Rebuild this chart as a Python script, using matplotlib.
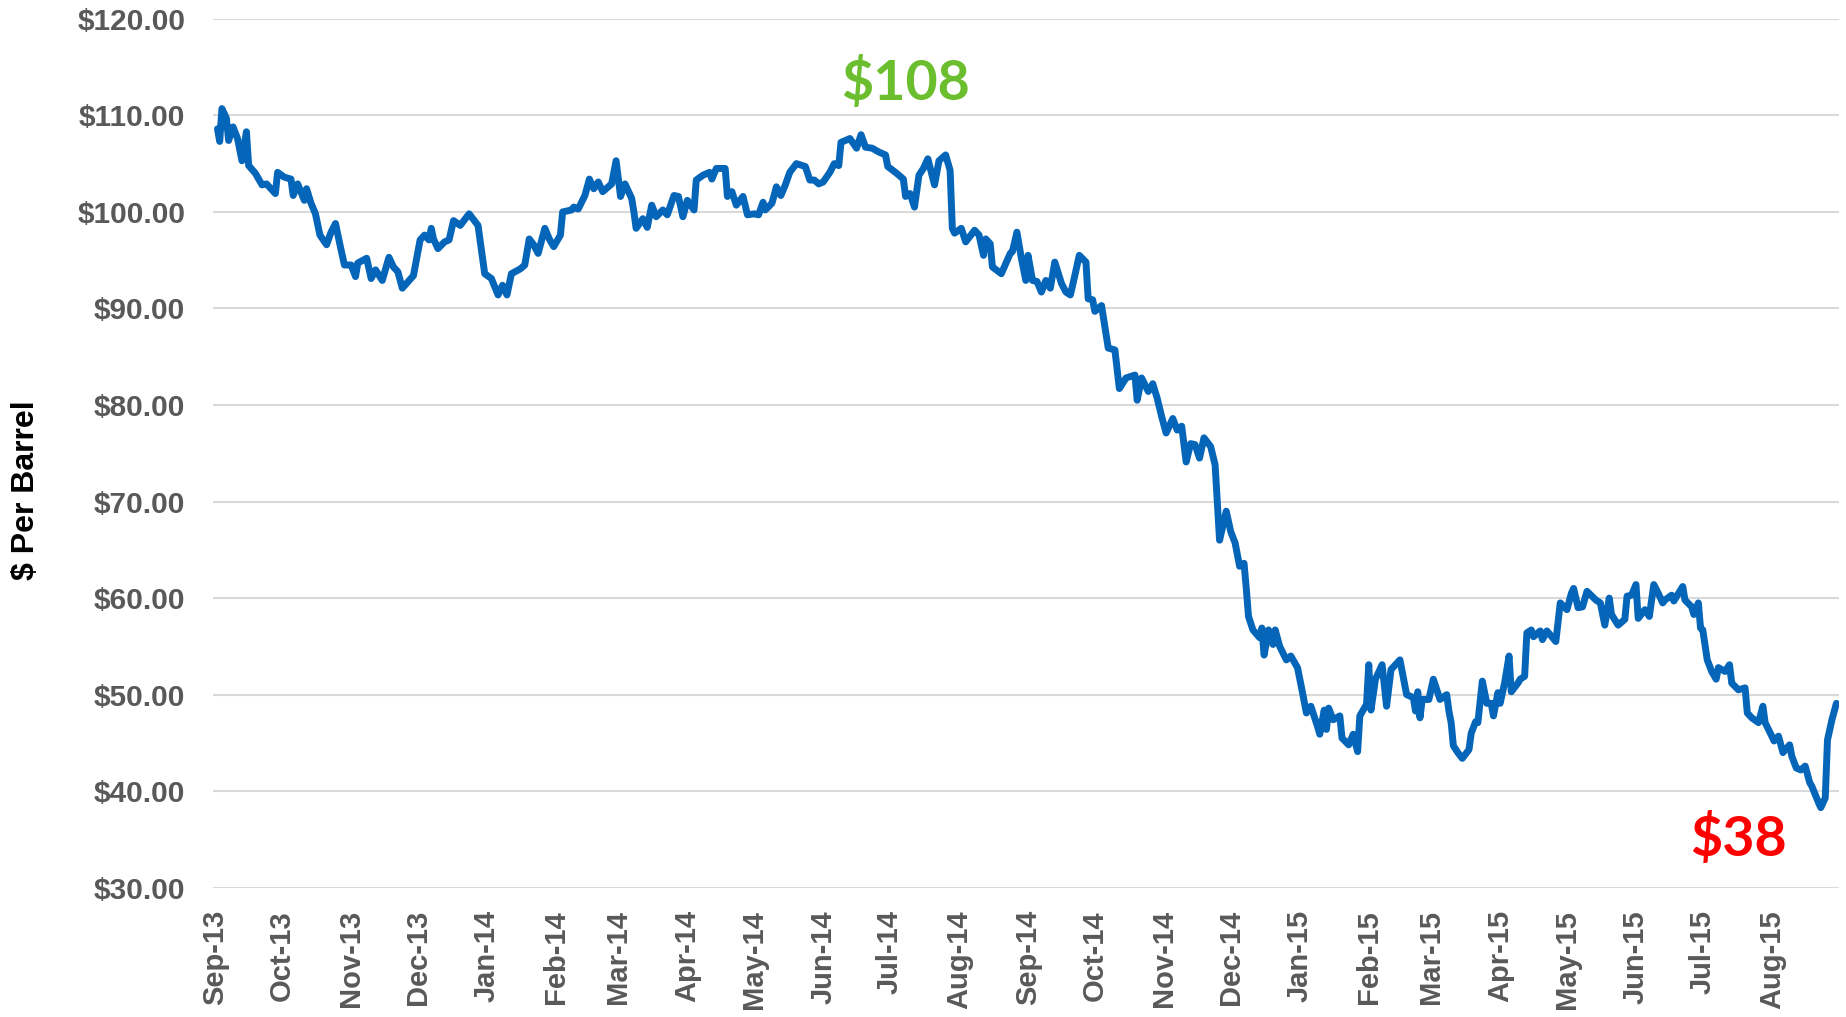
import pandas as pd
import numpy as np
import matplotlib
matplotlib.use("Agg")
import matplotlib.pyplot as plt
import matplotlib.dates as mdates
from matplotlib.ticker import FuncFormatter

# WTI daily price (roughly every 2-3 days)
dates = [
    "2013-09-02", "2013-09-03", "2013-09-04", "2013-09-06", "2013-09-07", "2013-09-09", "2013-09-11",
    "2013-09-13", "2013-09-15", "2013-09-16", "2013-09-19", "2013-09-22", "2013-09-24", "2013-09-28",
    "2013-09-29", "2013-10-02", "2013-10-05", "2013-10-06", "2013-10-08", "2013-10-11", "2013-10-12",
    "2013-10-14", "2013-10-16", "2013-10-18", "2013-10-21", "2013-10-23", "2013-10-25", "2013-10-27",
    "2013-10-29", "2013-11-01", "2013-11-03", "2013-11-04", "2013-11-08", "2013-11-10", "2013-11-12",
    "2013-11-15", "2013-11-18", "2013-11-20", "2013-11-22", "2013-11-24", "2013-11-29", "2013-12-02",
    "2013-12-04", "2013-12-06", "2013-12-07", "2013-12-08", "2013-12-10", "2013-12-13", "2013-12-15",
    "2013-12-17", "2013-12-20", "2013-12-24", "2013-12-28", "2013-12-31",
    "2014-01-03", "2014-01-06", "2014-01-08", "2014-01-10", "2014-01-12", "2014-01-16", "2014-01-18",
    "2014-01-20", "2014-01-22", "2014-01-24", "2014-01-27", "2014-01-29", "2014-01-31", "2014-02-03",
    "2014-02-04", "2014-02-08", "2014-02-09", "2014-02-11", "2014-02-14", "2014-02-16", "2014-02-18",
    "2014-02-20", "2014-02-22", "2014-02-26", "2014-02-28", "2014-03-02", "2014-03-04", "2014-03-07",
    "2014-03-08", "2014-03-09", "2014-03-12", "2014-03-14", "2014-03-16", "2014-03-18", "2014-03-21",
    "2014-03-23", "2014-03-26", "2014-03-28", "2014-03-30", "2014-04-01", "2014-04-04", "2014-04-05",
    "2014-04-08", "2014-04-11", "2014-04-12", "2014-04-14", "2014-04-18", "2014-04-19", "2014-04-21",
    "2014-04-23", "2014-04-26", "2014-04-28", "2014-05-01", "2014-05-03", "2014-05-05", "2014-05-06",
    "2014-05-09", "2014-05-11", "2014-05-13", "2014-05-15", "2014-05-17", "2014-05-20", "2014-05-24",
    "2014-05-26", "2014-05-28", "2014-05-30", "2014-06-01", "2014-06-04", "2014-06-06", "2014-06-08",
    "2014-06-09", "2014-06-13", "2014-06-16", "2014-06-18", "2014-06-20", "2014-06-23", "2014-06-26",
    "2014-06-29", "2014-06-30", "2014-07-04", "2014-07-07", "2014-07-08", "2014-07-10", "2014-07-12",
    "2014-07-14", "2014-07-16", "2014-07-18", "2014-07-21", "2014-07-23", "2014-07-26", "2014-07-28",
    "2014-07-29", "2014-07-30", "2014-08-02", "2014-08-04", "2014-08-08", "2014-08-10", "2014-08-12",
    "2014-08-13", "2014-08-15", "2014-08-16", "2014-08-20", "2014-08-24", "2014-08-25", "2014-08-27",
    "2014-08-29", "2014-08-31", "2014-09-01", "2014-09-03", "2014-09-05", "2014-09-07", "2014-09-09",
    "2014-09-11", "2014-09-13", "2014-09-16", "2014-09-18", "2014-09-20", "2014-09-22", "2014-09-24",
    "2014-09-27", "2014-09-28", "2014-09-30", "2014-10-01", "2014-10-04", "2014-10-07", "2014-10-10",
    "2014-10-12", "2014-10-15", "2014-10-19", "2014-10-20", "2014-10-22", "2014-10-25", "2014-10-27",
    "2014-10-29", "2014-10-31", "2014-11-02", "2014-11-05", "2014-11-07", "2014-11-09", "2014-11-11",
    "2014-11-13", "2014-11-15", "2014-11-17", "2014-11-19", "2014-11-22", "2014-11-24", "2014-11-26",
    "2014-11-29", "2014-12-01", "2014-12-03", "2014-12-05", "2014-12-07", "2014-12-08", "2014-12-09",
    "2014-12-11", "2014-12-14", "2014-12-15", "2014-12-16", "2014-12-18", "2014-12-20", "2014-12-21",
    "2014-12-23", "2014-12-26", "2014-12-28", "2014-12-31",
    "2015-01-02", "2015-01-04", "2015-01-06", "2015-01-09", "2015-01-10", "2015-01-12", "2015-01-13",
    "2015-01-14", "2015-01-16", "2015-01-19", "2015-01-20", "2015-01-23", "2015-01-25", "2015-01-27",
    "2015-01-28", "2015-01-31", "2015-02-01", "2015-02-02", "2015-02-04", "2015-02-07", "2015-02-09",
    "2015-02-11", "2015-02-15", "2015-02-18", "2015-02-21", "2015-02-22", "2015-02-23", "2015-02-24",
    "2015-02-25", "2015-02-28", "2015-03-02", "2015-03-05", "2015-03-08", "2015-03-09", "2015-03-10",
    "2015-03-11", "2015-03-13", "2015-03-15", "2015-03-18", "2015-03-19", "2015-03-21", "2015-03-22",
    "2015-03-24", "2015-03-26", "2015-03-28", "2015-03-29", "2015-03-31", "2015-04-01", "2015-04-03",
    "2015-04-05", "2015-04-06", "2015-04-09", "2015-04-10", "2015-04-12", "2015-04-13", "2015-04-15",
    "2015-04-16", "2015-04-19", "2015-04-20", "2015-04-22", "2015-04-26", "2015-04-28", "2015-05-01",
    "2015-05-03", "2015-05-04", "2015-05-06", "2015-05-08", "2015-05-10", "2015-05-14", "2015-05-16",
    "2015-05-18", "2015-05-20", "2015-05-21", "2015-05-24", "2015-05-27", "2015-05-28", "2015-05-30",
    "2015-06-01", "2015-06-02", "2015-06-05", "2015-06-07", "2015-06-09", "2015-06-11", "2015-06-13",
    "2015-06-14", "2015-06-17", "2015-06-18", "2015-06-22", "2015-06-23", "2015-06-26", "2015-06-27",
    "2015-06-29", "2015-06-30", "2015-07-01", "2015-07-03", "2015-07-05", "2015-07-07", "2015-07-08",
    "2015-07-11", "2015-07-13", "2015-07-14", "2015-07-17", "2015-07-20", "2015-07-21", "2015-07-23",
    "2015-07-26", "2015-07-28", "2015-07-29", "2015-08-01", "2015-08-02", "2015-08-04", "2015-08-06",
    "2015-08-09", "2015-08-10", "2015-08-12", "2015-08-14", "2015-08-16", "2015-08-18", "2015-08-19",
    "2015-08-22", "2015-08-23", "2015-08-25", "2015-08-26", "2015-08-28", "2015-08-30",
]

prices = [
    108.6, 107.3, 110.7, 109.7, 107.4, 108.8, 107.6,
    105.3, 108.3, 104.8, 104.0, 102.8, 102.9, 101.9,
    104.1, 103.6, 103.4, 101.7, 102.9, 101.2, 102.4,
    100.9, 99.8, 97.6, 96.6, 97.9, 98.8, 96.6,
    94.5, 94.5, 93.3, 94.7, 95.2, 93.1, 94.0,
    92.9, 95.3, 94.3, 93.8, 92.1, 93.4, 97.1,
    97.6, 97.1, 98.3, 97.2, 96.2, 96.9, 97.1,
    99.1, 98.6, 99.8, 98.6, 93.6,
    93.1, 91.4, 92.4, 91.4, 93.6, 94.1, 94.5,
    97.2, 96.6, 95.7, 98.3, 97.2, 96.4, 97.6,
    100.0, 100.2, 100.5, 100.3, 101.7, 103.4, 102.4,
    103.1, 102.1, 102.9, 105.3, 101.6, 102.9, 101.4,
    100.0, 98.3, 99.3, 98.4, 100.7, 99.5, 100.2,
    99.7, 101.7, 101.6, 99.5, 101.2, 100.2, 103.3,
    103.8, 104.1, 103.4, 104.5, 104.5, 101.6, 102.1,
    100.7, 101.6, 99.7, 99.8, 99.7, 101.0, 100.2,
    100.9, 102.6, 101.7, 102.8, 104.1, 105.0, 104.7,
    103.3, 103.3, 102.9, 103.1, 104.1, 105.0, 104.8,
    107.2, 107.6, 106.6, 108.0, 106.7, 106.6, 106.2,
    105.9, 104.7, 104.0, 103.4, 101.6, 101.9, 100.5,
    103.8, 104.5, 105.5, 102.8, 105.3, 105.9, 104.3,
    98.3, 97.8, 98.3, 96.9, 98.1, 97.6, 95.5,
    97.2, 96.7, 94.3, 93.6, 95.7, 95.9, 97.9,
    95.2, 92.9, 95.5, 92.9, 92.8, 91.7, 92.9,
    92.1, 94.8, 92.6, 91.7, 91.4, 93.4, 95.5,
    94.8, 91.0, 90.9, 89.7, 90.3, 85.9, 85.7,
    81.7, 82.8, 83.1, 80.5, 82.8, 81.4, 82.2,
    80.7, 78.8, 77.1, 78.6, 77.4, 77.8, 74.1,
    76.0, 75.9, 74.5, 76.6, 75.7, 73.8, 66.0,
    69.0, 66.9, 65.7, 63.3, 63.6, 61.0, 58.1,
    56.7, 55.9, 56.9, 54.1, 56.7, 55.2, 56.7,
    55.0, 53.6, 54.0, 52.8,
    50.5, 48.1, 48.8, 46.7, 45.9, 48.4, 46.4,
    48.6, 47.4, 47.8, 45.5, 44.8, 45.9, 44.1,
    47.8, 49.0, 53.1, 48.4, 51.6, 53.1, 48.8,
    52.6, 53.6, 50.0, 49.7, 48.3, 50.3, 47.6,
    49.5, 49.5, 51.6, 49.5, 50.0, 48.3, 47.1,
    44.7, 44.0, 43.4, 44.3, 46.0, 47.2, 47.1,
    51.4, 49.1, 49.1, 47.8, 50.2, 49.1, 51.2,
    54.0, 50.3, 51.2, 51.6, 51.9, 56.4, 56.7,
    56.0, 56.6, 55.7, 56.6, 55.5, 59.5, 58.8,
    60.5, 61.0, 59.0, 59.1, 60.7, 59.8, 59.5,
    57.2, 60.0, 58.3, 57.2, 57.8, 60.2, 60.3,
    61.4, 57.9, 58.8, 58.1, 61.4, 60.5, 59.5,
    59.8, 60.3, 59.7, 61.2, 59.8, 59.1, 58.3,
    59.5, 56.9, 56.7, 53.6, 52.4, 51.6, 52.8,
    52.4, 53.1, 51.2, 50.5, 50.7, 48.1, 47.6,
    47.1, 48.8, 47.1, 45.7, 45.2, 45.7, 44.0,
    44.8, 43.6, 42.4, 42.2, 42.6, 40.9, 40.5,
    38.8, 38.3, 39.3, 45.3, 47.4, 49.1,
]

high_label = "$108"
low_label = "$38"

x = pd.to_datetime(dates)
y = np.array(prices)

fig = plt.figure(figsize=(18.46, 10.17), dpi=100)
ax = fig.add_axes([0.1154, 0.1271, 0.8806, 0.8544])

ax.plot(x, y, color="#0565B8", linewidth=5.0, solid_joinstyle="round", solid_capstyle="round", zorder=3)

ax.set_ylim(30, 120)
ax.set_yticks(np.arange(30, 121, 10))
ax.yaxis.set_major_formatter(FuncFormatter(lambda v, p: f"${v:,.2f}"))
ax.set_xlim(pd.Timestamp("2013-08-31"), pd.Timestamp("2015-08-31"))
ax.xaxis.set_major_locator(mdates.MonthLocator())
ax.xaxis.set_major_formatter(mdates.DateFormatter("%b-%y"))

ax.grid(axis="y", color="#D9D9D9", linewidth=1.5, zorder=0)
ax.grid(axis="x", visible=False)
for s in ax.spines.values():
    s.set_visible(False)

ax.tick_params(axis="both", length=0)
ax.tick_params(axis="y", pad=20, labelsize=21.5, labelcolor="#595959")
ax.tick_params(axis="x", pad=16, labelsize=21, labelcolor="#595959", rotation=90)
for lab in ax.get_yticklabels() + ax.get_xticklabels():
    lab.set_fontweight("bold")
    lab.set_family(["Liberation Sans", "DejaVu Sans"])

fig.text(0.014, 0.518, "$ Per Barrel", rotation=90, ha="center", va="center",
         fontsize=23, fontweight="bold", color="black",
         family=["Liberation Sans Narrow", "Liberation Sans", "DejaVu Sans"])

ax.text(pd.Timestamp("2014-07-08"), 113.4, high_label, ha="center", va="center",
        fontsize=40, fontweight="bold", color="#6BBE2E", family=["Lato", "DejaVu Sans"])
ax.text(pd.Timestamp("2015-07-17"), 35.1, low_label, ha="center", va="center",
        fontsize=40, fontweight="bold", color="#FF0000", family=["Lato", "DejaVu Sans"])

fig.savefig("out.png", dpi=100)
